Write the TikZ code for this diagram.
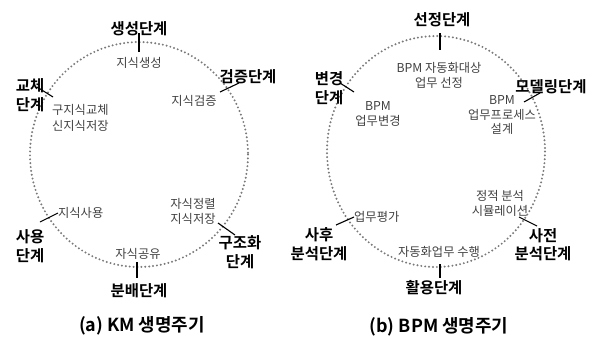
\documentclass[tikz,border=0pt]{standalone}
\usepackage{fontspec}
\setmainfont{Noto Sans CJK KR}[BoldFont={Noto Sans CJK KR Bold}]
\begin{document}
\begin{tikzpicture}[x=1bp,y=-1bp,
  phase/.style={font=\bfseries\fontsize{15.5}{18.5}\selectfont, align=center, inner sep=0pt},
  desc/.style={font=\fontsize{12.3}{15}\selectfont, text=black!75, align=center, inner sep=0pt},
  captext/.style={font=\bfseries\fontsize{18}{21}\selectfont, inner sep=0pt},
  tickline/.style={draw=black, line width=1.1bp},
  ring/.style={draw=black!52, line width=2.2bp, dash pattern=on 0pt off 3.9bp, line cap=round}]
\useasboundingbox (0,0) rectangle (597,342);
% ---------- (a) KM ----------
\draw[ring] (139,154.5) ellipse [x radius=109, y radius=112.5];
\node[phase] (agen) at (139,29) {생성단계};
\node[desc] (tgen) at (139,63) {지식생성};
\coordinate (agen1) at (139,33); \coordinate (agen2) at (139,52);
\draw[tickline] (agen1) -- (agen2);

\node[phase] (aver) at (248,77) {검증단계};
\node[desc] (tver) at (194,101) {지식검증};
\coordinate (aver1) at (239,83); \coordinate (aver2) at (220,92);
\draw[tickline] (aver1) -- (aver2);

\node[phase] (arep) at (30,95) {교체\\단계};
\node[desc, anchor=west, align=left, font=\fontsize{12.3}{16.5}\selectfont] (trep) at (52,118) {구지식교체\\신지식저장};
\coordinate (arep1) at (37,87); \coordinate (arep2) at (53,97);
\draw[tickline] (arep1) -- (arep2);

\node[phase] (ause) at (30,246) {사용\\단계};
\node[desc, anchor=west] (tuse) at (58,213) {지식사용};
\coordinate (ause1) at (40,222); \coordinate (ause2) at (58,213);
\draw[tickline] (ause1) -- (ause2);

\node[desc] (tshare) at (138,254) {자식공유};
\node[phase] (adist) at (139,291) {분배단계};
\coordinate (adist1) at (137,262); \coordinate (adist2) at (137,278);
\draw[tickline] (adist1) -- (adist2);

\node[desc] (tsort) at (193,211) {자식정렬\\지식저장};
\node[phase] (astr) at (240,252) {구조화\\단계};
\coordinate (astr1) at (218,223); \coordinate (astr2) at (235,235);
\draw[tickline] (astr1) -- (astr2);

\node[captext] (capa) at (142,326) {(a) KM 생명주기};

% ---------- (b) BPM ----------
\draw[ring] (436,151.5) ellipse [x radius=109, y radius=115.5];
\node[phase] (bsel) at (442,20) {선정단계};
\node[desc] (tsel) at (439,75) {BPM 자동화대상\\업무 선정};
\coordinate (bsel1) at (440,33); \coordinate (bsel2) at (440,50);
\draw[tickline] (bsel1) -- (bsel2);

\node[phase] (bchg) at (329,88) {변경\\단계};
\node[desc, font=\fontsize{12.3}{14.5}\selectfont] (tchg) at (378,114) {BPM\\업무변경};
\coordinate (bchg1) at (340,83); \coordinate (bchg2) at (354,92);
\draw[tickline] (bchg1) -- (bchg2);

\node[phase] (bmod) at (551,87) {모델링단계};
\node[desc] (tmod) at (502,115) {BPM\\업무프로세스\\설계};
\coordinate (bmod1) at (540,93); \coordinate (bmod2) at (524,102);
\draw[tickline] (bmod1) -- (bmod2);

\node[desc] (tsim) at (500,203) {정적 분석\\시뮬레이션};
\node[phase] (bpre) at (543,245) {사전\\분석단계};
\coordinate (bpre1) at (519,217); \coordinate (bpre2) at (537,226);
\draw[tickline] (bpre1) -- (bpre2);

\node[desc, anchor=west] (teval) at (354,217) {업무평가};
\node[phase] (bpost) at (319,244) {사후\\분석단계};
\coordinate (bpost1) at (336,225); \coordinate (bpost2) at (354,217);
\draw[tickline] (bpost1) -- (bpost2);

\node[desc] (texec) at (439,252) {자동화업무 수행};
\node[phase] (buse) at (434,288) {활용단계};
\coordinate (buse1) at (440,264); \coordinate (buse2) at (440,278);
\draw[tickline] (buse1) -- (buse2);

\node[captext] (capb) at (439,327) {(b) BPM 생명주기};
\end{tikzpicture}
\end{document}
